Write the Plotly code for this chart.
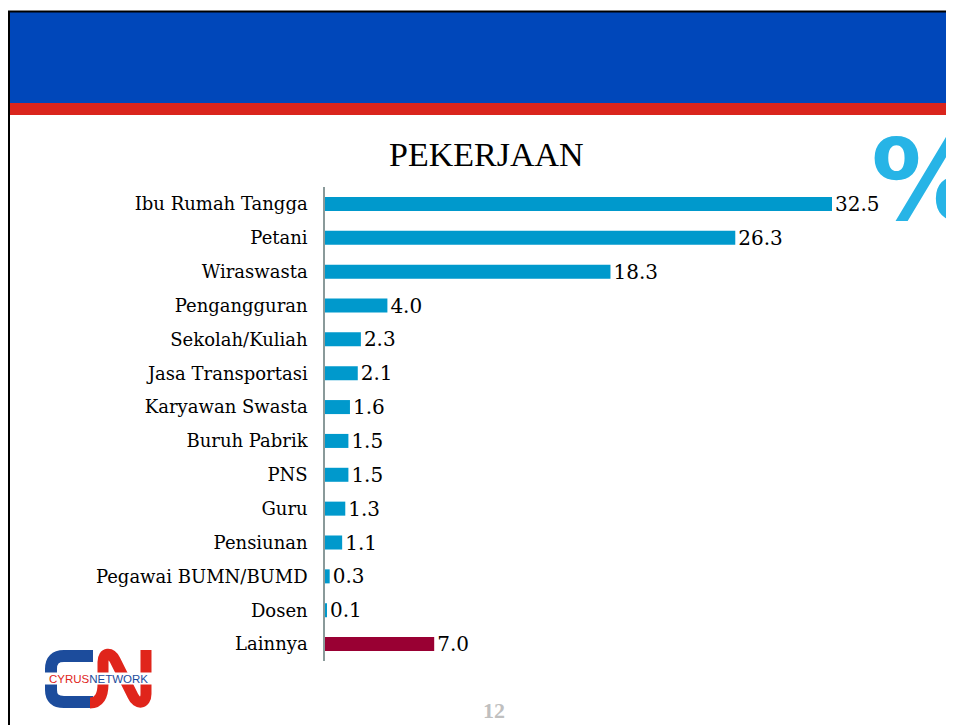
import plotly.graph_objects as go

categories = ["Ibu Rumah Tangga", "Petani", "Wiraswasta", "Pengangguran", "Sekolah/Kuliah",
              "Jasa Transportasi", "Karyawan Swasta", "Buruh Pabrik", "PNS", "Guru",
              "Pensiunan", "Pegawai BUMN/BUMD", "Dosen", "Lainnya"]
values = [32.5, 26.3, 18.3, 4.0, 2.3, 2.1, 1.6, 1.5, 1.5, 1.3, 1.1, 0.3, 0.1, 7.0]
value_labels = ["32.5", "26.3", "18.3", "4.0", "2.3", "2.1", "1.6", "1.5", "1.5", "1.3", "1.1", "0.3", "0.1", "7.0"]
bar_colors = ["#0099CC"] * 13 + ["#990033"]
title_text = "PEKERJAAN"
page_number = "12"

OFF = 8  # page body margin
W_PX, H_PX = 954 - OFF, 725 - OFF
L, R, T = 325 - OFF, 0, 187 - OFF
B = H_PX - T - 474
PW = W_PX - L - R
PH = H_PX - T - B


def px(x):
    return (x - OFF - L) / PW


def py(y):
    return (T + PH - (y - OFF)) / PH


def path(points_cmds):
    out = []
    for cmd, pts in points_cmds:
        coords = [f"{px(x):.5f},{py(y):.5f}" for (x, y) in pts]
        out.append(cmd + " ".join(coords))
    return " ".join(out)


fig = go.Figure(go.Bar(
    y=categories,
    x=values,
    orientation="h",
    marker=dict(color=bar_colors, line=dict(width=0)),
    text=value_labels,
    textposition="outside",
    constraintext="none",
    textfont=dict(family="DejaVu Serif", size=20, color="#000000"),
    cliponaxis=False,
    hoverinfo="skip",
))

shapes = []
# header band
shapes.append(dict(type="rect", xref="paper", yref="paper", x0=px(6), x1=px(960), y0=py(12), y1=py(103),
                   fillcolor="#0047BA", line=dict(width=0), layer="below"))
shapes.append(dict(type="rect", xref="paper", yref="paper", x0=px(6), x1=px(960), y0=py(103), y1=py(115),
                   fillcolor="#DA251D", line=dict(width=0), layer="below"))
# borders
shapes.append(dict(type="line", xref="paper", yref="paper", x0=px(8), x1=px(960), y0=py(11.5), y1=py(11.5),
                   line=dict(color="#000000", width=2)))
shapes.append(dict(type="line", xref="paper", yref="paper", x0=px(9), x1=px(9), y0=py(11), y1=py(730),
                   line=dict(color="#000000", width=2)))
# logo: blue C
c_path = path([
    ("M", [(93, 656)]), ("L", [(64, 656)]), ("Q", [(51, 656), (51, 669)]), ("L", [(51, 690)]),
    ("Q", [(51, 702), (64, 702)]), ("L", [(93, 702)]),
])
shapes.append(dict(type="path", xref="paper", yref="paper", path=c_path,
                   line=dict(color="#1C4C9C", width=12)))
# logo: red N
n_path = path([
    ("M", [(90, 703)]), ("C", [(99, 703), (103, 696), (103, 684)]), ("L", [(103, 662)]),
    ("C", [(103, 652), (111, 652), (115, 660)]), ("L", [(133, 696)]),
    ("C", [(137, 705), (146, 704), (146, 694)]), ("L", [(146, 650)]),
])
shapes.append(dict(type="path", xref="paper", yref="paper", path=n_path,
                   line=dict(color="#E0251B", width=11)))
shapes.append(dict(type="rect", xref="paper", yref="paper", x0=px(43), x1=px(154), y0=py(672.5), y1=py(684.5),
                   fillcolor="#FFFFFF", line=dict(width=0)))

annotations = [
    dict(text=title_text, xref="paper", yref="paper", x=px(486), y=py(155), showarrow=False,
         xanchor="center", yanchor="middle", font=dict(family="Liberation Serif", size=34, color="#000000")),
    dict(text="<b>%</b>", xref="paper", yref="paper", x=px(869), y=py(180), showarrow=False,
         xanchor="left", yanchor="middle", font=dict(family="DejaVu Sans", size=112, color="#27B4E6")),
    dict(text="<span style='color:#E0251B'>CYRUS</span><span style='color:#1C4C9C'>NETWORK</span>",
         xref="paper", yref="paper", x=px(98), y=py(678.5), showarrow=False, xanchor="center", yanchor="middle",
         font=dict(family="Liberation Sans", size=11.5)),
    dict(text="<b>" + page_number + "</b>", xref="paper", yref="paper", x=px(494), y=py(710), showarrow=False,
         xanchor="center", yanchor="middle", font=dict(family="Liberation Serif", size=22, color="#BFBFBF")),
]

fig.update_layout(
    width=W_PX, height=H_PX,
    margin=dict(l=L, r=R, t=T, b=B, pad=0),
    paper_bgcolor="#FFFFFF", plot_bgcolor="#FFFFFF",
    showlegend=False,
    bargap=0.586,
    shapes=shapes,
    annotations=annotations,
    xaxis=dict(range=[0, PW / 15.6], visible=False, fixedrange=True),
    yaxis=dict(autorange="reversed", showline=True, linecolor="#8A9A9A", linewidth=1.5,
               ticks="", showgrid=False, zeroline=False, ticklabelstandoff=12,
               tickfont=dict(family="DejaVu Serif", size=18, color="#000000")),
)

fig.write_html("out.html")
